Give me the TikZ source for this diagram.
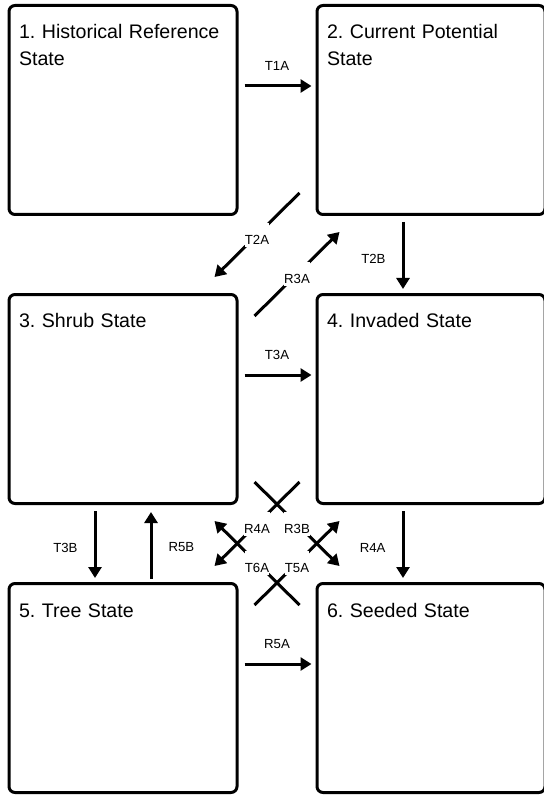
\documentclass[tikz,border=0pt]{standalone}
\usepackage{fontspec}
\setmainfont{Liberation Sans}
\frenchspacing
\usetikzlibrary{arrows.meta, positioning}
\tikzstyle{state} = [rectangle, draw=black, line width=1.5pt, outer sep=0.75pt, rounded corners=3pt, minimum width=114pt, minimum height=104.5pt, text width=104pt, align=left, inner xsep=5pt, inner ysep=8.75pt, text height=8pt, text depth=79pt, font=\fontsize{9.8}{13.5}\selectfont]
\tikzstyle{arrow} = [line width=1.5pt, ->, >={Triangle[length=5.5pt, width=6.5pt]}, shorten <=3pt, shorten >=2pt]
\tikzstyle{translabel} = [font=\fontsize{6.6}{8}\selectfont, inner sep=0pt]
\tikzstyle{crosslabel} = [translabel, fill=white, minimum width=12pt, minimum height=12pt, text height=9.7pt, text depth=0pt]

\begin{document}
\begin{tikzpicture}[node distance=38.5pt and 38.5pt]
    \useasboundingbox (0,0) rectangle (272pt,-398pt);
    \node (hist) [state, anchor=north west] at (3.75pt,-2pt) {1. Historical Reference\\State};
    \node (pot) [state, right=of hist] {2. Current Potential\\State};
    \node (shrub) [state, below=of hist] {3. Shrub State};
    \node (inv) [state, below=of pot] {4. Invaded State};
    \node (tree) [state, below=of shrub] {5. Tree State};
    \node (seed) [state, below=of inv] {6. Seeded State};

    % straight transitions
    \draw [arrow] ([yshift=12pt]hist.east) -- ([yshift=12pt]pot.west) node [translabel, midway, above=7pt] {T1A};
    \draw [arrow] ([yshift=12pt]shrub.east) -- ([yshift=12pt]inv.west) node [translabel, midway, above=7pt] {T3A};
    \draw [arrow] ([yshift=12pt]tree.east) -- ([yshift=12pt]seed.west) node [translabel, midway, above=7pt] {R5A};
    \draw [arrow] ([xshift=-14pt]pot.south) -- ([xshift=-14pt]inv.north) node [translabel, midway, anchor=east, xshift=-8pt, yshift=-2pt] {T2B};
    \draw [arrow] ([xshift=-14pt]inv.south) -- ([xshift=-14pt]seed.north) node [translabel, midway, anchor=east, xshift=-8pt, yshift=-2pt] {R4A};
    \draw [arrow] ([xshift=-14pt]shrub.south) -- ([xshift=-14pt]tree.north) node [translabel, midway, anchor=east, xshift=-8pt, yshift=-2pt] {T3B};
    \draw [arrow, shorten <=1.75pt, shorten >=3.5pt] ([xshift=14pt]tree.north) -- ([xshift=14pt]shrub.south) node [translabel, midway, anchor=west, xshift=8pt, yshift=-2pt] {R5B};

    % diagonal transitions
    \draw [arrow, shorten <=0pt, shorten >=0pt] ([shift={(-8pt,11.5pt)}]pot.south west) -- ([shift={(-12pt,8pt)}]shrub.north east) node [crosslabel, midway] {T2A};
    \draw [arrow, shorten <=0pt, shorten >=0pt] ([shift={(8pt,-11.5pt)}]shrub.north east) -- ([shift={(12pt,-8pt)}]pot.south west) node [crosslabel, midway] {R3A};
    \draw [arrow, shorten <=0pt, shorten >=0pt] ([shift={(-8pt,11.5pt)}]inv.south west) -- ([shift={(-12pt,8pt)}]tree.north east) node [crosslabel, midway] {R4A};
    \draw [arrow, shorten <=0pt, shorten >=0pt] ([shift={(8pt,11.5pt)}]shrub.south east) -- ([shift={(12pt,8pt)}]seed.north west) node [crosslabel, midway] {R3B};
    \draw [arrow, shorten <=0pt, shorten >=0pt] ([shift={(8pt,-11.5pt)}]tree.north east) -- ([shift={(12pt,-8pt)}]inv.south west) node [crosslabel, midway] {T5A};
    \draw [arrow, shorten <=0pt, shorten >=0pt] ([shift={(-8pt,-11.5pt)}]seed.north west) -- ([shift={(-12pt,-8pt)}]shrub.south east) node [crosslabel, midway] {T6A};
\end{tikzpicture}
\end{document}
